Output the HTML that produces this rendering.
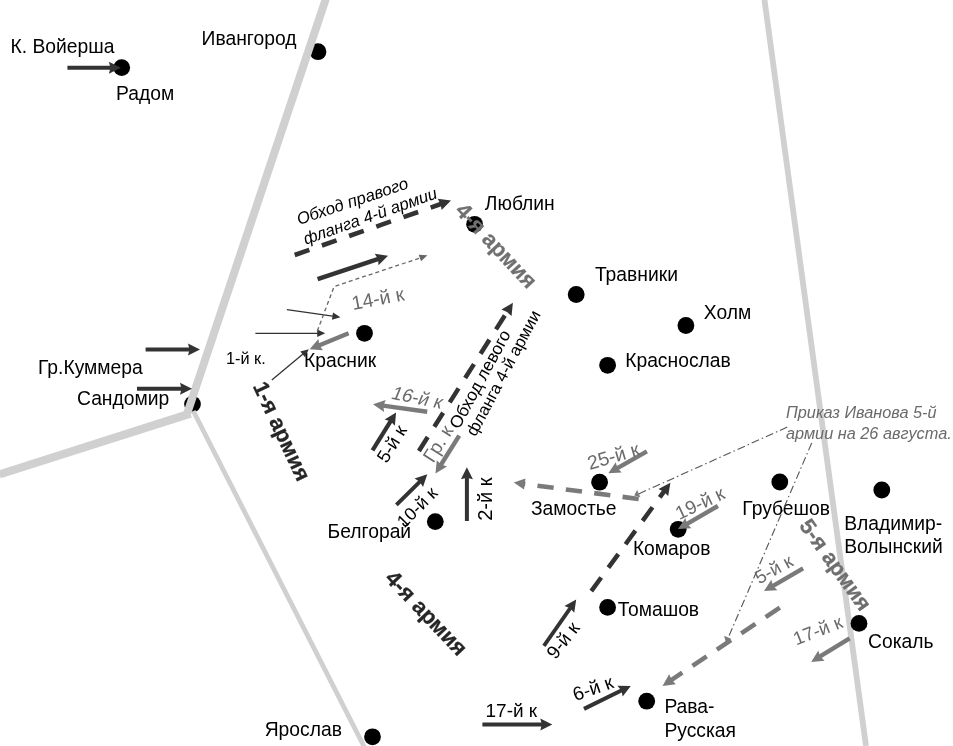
<!DOCTYPE html>
<html><head><meta charset="utf-8"><style>
html,body{margin:0;padding:0;background:#fff;width:953px;height:746px;overflow:hidden}
svg{display:block;will-change:transform}
text{font-family:"Liberation Sans",sans-serif}
</style></head><body>
<svg width="953" height="746" viewBox="0 0 953 746">
<rect width="953" height="746" fill="#fff"/>
<circle cx="318.00" cy="51.70" r="8.4" fill="#000"/>
<circle cx="192.50" cy="404.10" r="8.4" fill="#000"/>
<line x1="325.80" y1="-1.00" x2="187.30" y2="413.00" stroke="#d0d0d0" stroke-width="8.0" stroke-linecap="butt"/>
<line x1="190.50" y1="413.50" x2="-0.50" y2="474.40" stroke="#d0d0d0" stroke-width="8.2" stroke-linecap="butt"/>
<line x1="193.30" y1="411.00" x2="365.30" y2="749.00" stroke="#d0d0d0" stroke-width="4.8" stroke-linecap="butt"/>
<line x1="764.20" y1="-2.00" x2="866.00" y2="746.00" stroke="#d0d0d0" stroke-width="5.8" stroke-linecap="butt"/>
<circle cx="121.70" cy="67.60" r="8.4" fill="#000"/>
<circle cx="364.50" cy="333.30" r="8.4" fill="#000"/>
<circle cx="474.60" cy="224.30" r="8.4" fill="#000"/>
<circle cx="576.20" cy="294.50" r="8.4" fill="#000"/>
<circle cx="685.90" cy="325.50" r="8.4" fill="#000"/>
<circle cx="607.60" cy="365.30" r="8.4" fill="#000"/>
<circle cx="599.60" cy="482.20" r="8.4" fill="#000"/>
<circle cx="678.20" cy="529.30" r="8.4" fill="#000"/>
<circle cx="779.80" cy="482.00" r="8.4" fill="#000"/>
<circle cx="881.80" cy="490.00" r="8.4" fill="#000"/>
<circle cx="435.30" cy="521.60" r="8.4" fill="#000"/>
<circle cx="607.60" cy="607.40" r="8.4" fill="#000"/>
<circle cx="859.00" cy="623.40" r="8.4" fill="#000"/>
<circle cx="646.70" cy="701.20" r="8.4" fill="#000"/>
<circle cx="372.50" cy="736.80" r="8.4" fill="#000"/>
<text x="10.50" y="53.20" font-size="19.3" fill="#000">К. Войерша</text>
<text x="116.10" y="100.00" font-size="19.3" fill="#000">Радом</text>
<text x="201.60" y="44.90" font-size="19.3" fill="#000">Ивангород</text>
<text x="38.00" y="373.60" font-size="19.3" fill="#000">Гр.Куммера</text>
<text x="77.00" y="405.00" font-size="19.3" fill="#000">Сандомир</text>
<text x="304.00" y="366.60" font-size="19.3" fill="#000">Красник</text>
<text x="484.80" y="210.20" font-size="19.3" fill="#000">Люблин</text>
<text x="594.90" y="281.00" font-size="19.3" fill="#000">Травники</text>
<text x="703.80" y="318.80" font-size="19.3" fill="#000">Холм</text>
<text x="625.20" y="366.90" font-size="19.3" fill="#000">Красноcлав</text>
<text x="530.90" y="515.30" font-size="19.3" fill="#000">Замостье</text>
<text x="632.90" y="554.60" font-size="19.3" fill="#000">Комаров</text>
<text x="742.30" y="514.70" font-size="19.3" fill="#000">Грубешов</text>
<text x="844.20" y="530.30" font-size="19.3" fill="#000">Владимир-</text>
<text x="844.20" y="552.80" font-size="19.3" fill="#000">Волынский</text>
<text x="327.60" y="538.10" font-size="19.3" fill="#000">Белгорай</text>
<text x="617.70" y="616.20" font-size="19.3" fill="#000">Томашов</text>
<text x="868.00" y="647.60" font-size="19.3" fill="#000">Сокаль</text>
<text x="664.40" y="712.80" font-size="19.3" fill="#000">Рава-</text>
<text x="664.40" y="736.60" font-size="19.3" fill="#000">Русская</text>
<text x="264.70" y="736.40" font-size="19.3" fill="#000">Ярослав</text>
<text x="485.50" y="717.20" font-size="19" fill="#000">17-й к</text>
<text x="226.00" y="363.50" font-size="16.3" fill="#000">1-й к.</text>
<text x="786.00" y="418.30" font-size="16.3" fill="#6a6a6a" font-style="italic">Приказ Иванова 5-й</text>
<text x="786.00" y="439.20" font-size="16.3" fill="#6a6a6a" font-style="italic">армии на 26 августа.</text>
<line x1="67.40" y1="67.70" x2="110.90" y2="67.70" stroke="#333333" stroke-width="4" stroke-linecap="butt"/>
<polygon points="120.90,67.70 108.90,73.70 110.40,67.70 108.90,61.70" fill="#333333"/>
<line x1="145.60" y1="349.50" x2="190.00" y2="349.50" stroke="#333333" stroke-width="4" stroke-linecap="butt"/>
<polygon points="200.00,349.50 188.00,355.50 189.50,349.50 188.00,343.50" fill="#333333"/>
<line x1="137.00" y1="388.70" x2="182.00" y2="388.70" stroke="#333333" stroke-width="4" stroke-linecap="butt"/>
<polygon points="192.00,388.70 180.00,394.70 181.50,388.70 180.00,382.70" fill="#333333"/>
<line x1="317.60" y1="279.10" x2="378.51" y2="258.85" stroke="#333333" stroke-width="4.5" stroke-linecap="butt"/>
<polygon points="388.00,255.70 378.51,265.18 378.04,259.01 374.72,253.79" fill="#333333"/>
<line x1="372.50" y1="450.40" x2="390.82" y2="420.90" stroke="#333333" stroke-width="4.2" stroke-linecap="butt"/>
<polygon points="396.10,412.40 394.87,425.76 390.56,421.32 384.67,419.43" fill="#333333"/>
<line x1="396.40" y1="504.90" x2="420.19" y2="481.34" stroke="#333333" stroke-width="4" stroke-linecap="butt"/>
<polygon points="427.30,474.30 423.00,487.01 419.84,481.69 414.55,478.48" fill="#333333"/>
<line x1="466.90" y1="521.00" x2="466.90" y2="477.30" stroke="#333333" stroke-width="4" stroke-linecap="butt"/>
<polygon points="466.90,467.30 472.90,479.30 466.90,477.80 460.90,479.30" fill="#333333"/>
<line x1="543.90" y1="645.80" x2="570.47" y2="607.80" stroke="#333333" stroke-width="3.8" stroke-linecap="butt"/>
<polygon points="576.20,599.60 574.24,612.87 570.18,608.21 564.41,606.00" fill="#333333"/>
<line x1="482.40" y1="724.50" x2="542.30" y2="724.50" stroke="#333333" stroke-width="4" stroke-linecap="butt"/>
<polygon points="552.30,724.50 540.30,730.50 541.80,724.50 540.30,718.50" fill="#333333"/>
<line x1="584.00" y1="708.90" x2="621.83" y2="690.31" stroke="#333333" stroke-width="4" stroke-linecap="butt"/>
<polygon points="630.80,685.90 622.68,696.58 621.38,690.53 617.38,685.81" fill="#333333"/>
<line x1="286.90" y1="309.60" x2="334.46" y2="316.45" stroke="#333333" stroke-width="1.3" stroke-linecap="butt"/>
<polygon points="340.40,317.30 331.95,319.82 332.48,316.16 333.01,312.50" fill="#333333"/>
<line x1="255.40" y1="333.30" x2="319.20" y2="333.30" stroke="#333333" stroke-width="1.3" stroke-linecap="butt"/>
<polygon points="325.20,333.30 317.20,337.00 317.20,333.30 317.20,329.60" fill="#333333"/>
<line x1="271.80" y1="380.00" x2="304.19" y2="353.04" stroke="#333333" stroke-width="1.3" stroke-linecap="butt"/>
<polygon points="308.80,349.20 305.02,357.16 302.65,354.32 300.28,351.47" fill="#333333"/>
<line x1="348.60" y1="333.30" x2="318.86" y2="345.42" stroke="#7a7a7a" stroke-width="4.4" stroke-linecap="butt"/>
<polygon points="309.60,349.20 318.45,339.11 319.32,345.24 322.98,350.23" fill="#7a7a7a"/>
<line x1="427.20" y1="411.80" x2="382.91" y2="405.67" stroke="#7a7a7a" stroke-width="4.4" stroke-linecap="butt"/>
<polygon points="373.00,404.30 385.71,400.00 383.40,405.74 384.06,411.89" fill="#7a7a7a"/>
<line x1="459.20" y1="435.70" x2="440.81" y2="465.03" stroke="#7a7a7a" stroke-width="4.4" stroke-linecap="butt"/>
<polygon points="435.50,473.50 436.79,460.15 441.08,464.60 446.96,466.52" fill="#7a7a7a"/>
<line x1="646.90" y1="451.30" x2="616.99" y2="468.35" stroke="#7a7a7a" stroke-width="4.4" stroke-linecap="butt"/>
<polygon points="608.30,473.30 615.75,462.15 617.42,468.10 621.70,472.57" fill="#7a7a7a"/>
<line x1="717.90" y1="506.00" x2="686.65" y2="524.09" stroke="#7a7a7a" stroke-width="4.4" stroke-linecap="butt"/>
<polygon points="678.00,529.10 685.38,517.90 687.09,523.84 691.39,528.28" fill="#7a7a7a"/>
<line x1="803.10" y1="568.30" x2="772.64" y2="586.06" stroke="#7a7a7a" stroke-width="4.4" stroke-linecap="butt"/>
<polygon points="764.00,591.10 771.34,579.87 773.07,585.81 777.39,590.24" fill="#7a7a7a"/>
<line x1="849.60" y1="638.30" x2="819.72" y2="656.66" stroke="#7a7a7a" stroke-width="4.4" stroke-linecap="butt"/>
<polygon points="811.20,661.90 818.28,650.50 820.15,656.40 824.57,660.73" fill="#7a7a7a"/>
<line x1="294.70" y1="255.00" x2="441.56" y2="203.79" stroke="#333333" stroke-width="4.6" stroke-linecap="butt" stroke-dasharray="15.5 13.3"/>
<polygon points="451.00,200.50 441.64,210.12 440.61,204.12 437.69,198.79" fill="#333333"/>
<line x1="418.90" y1="451.00" x2="507.55" y2="311.15" stroke="#333333" stroke-width="4.5" stroke-linecap="butt" stroke-dasharray="16.5 12.3"/>
<polygon points="512.90,302.70 511.54,316.05 507.01,311.99 501.41,309.62" fill="#333333"/>
<line x1="591.30" y1="591.10" x2="664.50" y2="490.88" stroke="#333333" stroke-width="4.5" stroke-linecap="butt" stroke-dasharray="16.8 12.2"/>
<polygon points="670.40,482.80 668.17,496.03 663.91,491.68 658.48,488.95" fill="#333333"/>
<line x1="638.70" y1="499.00" x2="522.72" y2="483.77" stroke="#7a7a7a" stroke-width="4.6" stroke-linecap="butt" stroke-dasharray="16.3 12.3"/>
<polygon points="513.80,482.60 525.44,478.48 524.71,484.03 523.98,489.58" fill="#7a7a7a"/>
<line x1="779.80" y1="607.70" x2="670.82" y2="680.35" stroke="#7a7a7a" stroke-width="4.6" stroke-linecap="butt" stroke-dasharray="17 12.3"/>
<polygon points="662.50,685.90 669.16,674.25 671.65,679.80 675.81,684.24" fill="#7a7a7a"/>
<polyline points="317.3,331 334.1,286.5 420,258" fill="none" stroke="#666" stroke-width="1.3" stroke-dasharray="4 3"/>
<line x1="420.00" y1="258.00" x2="421.76" y2="257.36" stroke="#666" stroke-width="1.3" stroke-linecap="butt"/>
<polygon points="427.40,255.30 421.08,261.33 419.88,258.04 418.68,254.75" fill="#666"/>
<line x1="787.30" y1="427.10" x2="637.00" y2="494.60" stroke="#555" stroke-width="1.1" stroke-linecap="butt" stroke-dasharray="8 3 1.5 3"/>
<line x1="811.70" y1="443.00" x2="727.00" y2="640.50" stroke="#555" stroke-width="1.1" stroke-linecap="butt" stroke-dasharray="8 3 1.5 3"/>
<polygon points="634.20,495.60 637.13,489.91 640.40,497.21" fill="#7a7a7a"/>
<polygon points="725.80,642.00 724.11,635.82 731.45,638.99" fill="#7a7a7a"/>
<text x="298.90" y="225.00" font-size="16.8" fill="#000" font-style="italic" transform="rotate(-18.5 298.90 225.00)">Обход правого</text>
<text x="305.70" y="244.80" font-size="16.7" fill="#000" font-style="italic" transform="rotate(-19.5 305.70 244.80)">фланга 4-й армии</text>
<text x="353.00" y="310.00" font-size="19.5" fill="#6a6a6a" transform="rotate(-10.7 353.00 310.00)">14-й к</text>
<text x="252.60" y="386.00" font-size="22" fill="#262626" font-weight="bold" stroke="#262626" stroke-width="0.25" transform="rotate(65 252.60 386.00)">1-я армия</text>
<text x="454.30" y="211.50" font-size="22.2" fill="#707070" font-weight="bold" stroke="#707070" stroke-width="0.25" transform="rotate(47 454.30 211.50)">4-я армия</text>
<text x="459.10" y="430.00" font-size="17.3" fill="#000" transform="rotate(-61.5 459.10 430.00)">Обход левого</text>
<text x="475.60" y="437.30" font-size="16.8" fill="#000" transform="rotate(-62 475.60 437.30)">фланга 4-й армии</text>
<text x="0.00" y="0.00" font-size="18.8" fill="#6a6a6a" transform="translate(390.00 398.50) rotate(11.5) skewX(-11)">16-й к</text>
<text x="386.70" y="464.10" font-size="18.4" fill="#000" transform="rotate(-58.5 386.70 464.10)">5-й к</text>
<text x="433.30" y="463.80" font-size="19.3" fill="#6a6a6a" transform="rotate(-58 433.30 463.80)">Гр. к</text>
<text x="404.20" y="528.70" font-size="17.9" fill="#000" transform="rotate(-45 404.20 528.70)">10-й к</text>
<text x="491.60" y="520.80" font-size="20.1" fill="#000" transform="rotate(-90 491.60 520.80)">2-й к</text>
<text x="589.80" y="469.90" font-size="19.5" fill="#6a6a6a" transform="rotate(-16.5 589.80 469.90)">25-й к</text>
<text x="679.30" y="520.20" font-size="19.1" fill="#6a6a6a" transform="rotate(-25.5 679.30 520.20)">19-й к</text>
<text x="798.60" y="525.80" font-size="22" fill="#6e6e6e" font-weight="bold" stroke="#6e6e6e" stroke-width="0.25" transform="rotate(54.5 798.60 525.80)">5-я армия</text>
<text x="759.20" y="584.50" font-size="18.6" fill="#6a6a6a" transform="rotate(-29 759.20 584.50)">5-й к</text>
<text x="796.30" y="645.60" font-size="18.8" fill="#6a6a6a" transform="rotate(-21.5 796.30 645.60)">17-й к</text>
<text x="555.60" y="660.30" font-size="18.8" fill="#000" transform="rotate(-52 555.60 660.30)">9-й к</text>
<text x="575.60" y="701.30" font-size="19.2" fill="#000" transform="rotate(-19.5 575.60 701.30)">6-й к</text>
<text x="384.00" y="579.30" font-size="22.2" fill="#262626" font-weight="bold" stroke="#262626" stroke-width="0.25" transform="rotate(46.5 384.00 579.30)">4-я армия</text>
</svg></body></html>
